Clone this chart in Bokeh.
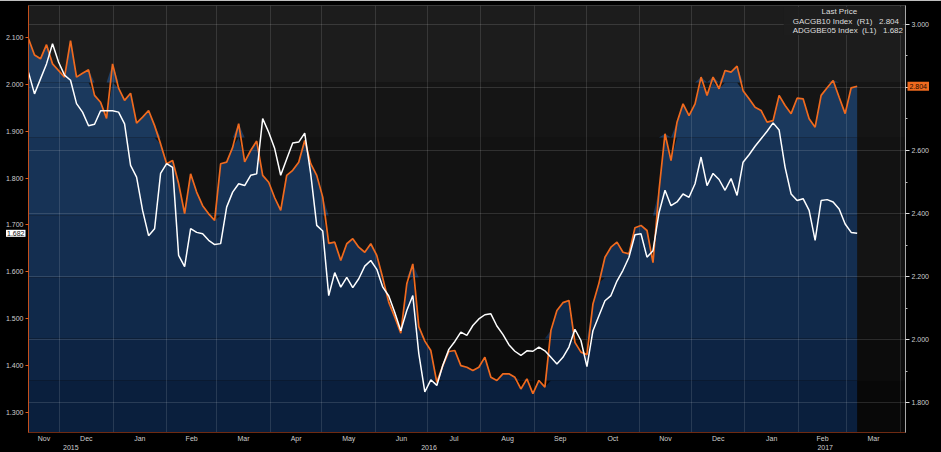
import numpy as np
import pandas as pd
from bokeh.plotting import figure
from bokeh.models import (Range1d, LinearAxis, DatetimeAxis, FixedTicker, MonthsTicker,
                          DatetimeTickFormatter, NumeralTickFormatter, Label, Legend, LegendItem)
from bokeh.embed import file_html
from bokeh.resources import INLINE

# ---------------- data ----------------
START = "2015-11-13"
END_DATA = "2017-03-07"
X_END = "2017-04-04"

# GACGB10 Index (R1) – right axis
gacgb10 = [
    2.955, 2.903, 2.891, 2.936, 2.875, 2.854, 2.833, 2.949, 2.833, 2.845,
    2.856, 2.775, 2.753, 2.702, 2.875, 2.798, 2.759, 2.782, 2.687, 2.706,
    2.727, 2.679, 2.621, 2.558, 2.568, 2.495, 2.400, 2.526, 2.468, 2.425,
    2.399, 2.378, 2.558, 2.563, 2.610, 2.685, 2.564, 2.600, 2.630, 2.521,
    2.499, 2.450, 2.410, 2.521, 2.537, 2.563, 2.632, 2.558, 2.521, 2.452,
    2.305, 2.309, 2.251, 2.304, 2.320, 2.293, 2.277, 2.304, 2.267, 2.195,
    2.118, 2.071, 2.020, 2.177, 2.240, 2.041, 1.995, 1.965, 1.864, 1.917,
    1.962, 1.965, 1.917, 1.912, 1.902, 1.912, 1.944, 1.880, 1.870, 1.891,
    1.891, 1.880, 1.843, 1.875, 1.828, 1.870, 1.849, 2.029, 2.092, 2.117,
    2.124, 1.991, 1.960, 1.952, 2.113, 2.179, 2.261, 2.293, 2.309, 2.277,
    2.272, 2.355, 2.362, 2.346, 2.244, 2.473, 2.653, 2.568, 2.690, 2.748,
    2.711, 2.748, 2.833, 2.775, 2.833, 2.796, 2.854, 2.849, 2.868, 2.790,
    2.764, 2.737, 2.727, 2.690, 2.695, 2.775, 2.743, 2.717, 2.766, 2.764,
    2.701, 2.674, 2.775, 2.799, 2.822, 2.769, 2.717, 2.799, 2.804,
]

# ADGGBE05 Index (L1) – left axis
adggbe05 = [
    2.026, 1.980, 2.012, 2.044, 2.087, 2.048, 2.020, 2.009, 1.959, 1.941,
    1.912, 1.915, 1.944, 1.944, 1.944, 1.941, 1.916, 1.827, 1.802, 1.731,
    1.677, 1.692, 1.810, 1.831, 1.823, 1.635, 1.611, 1.692, 1.684, 1.681,
    1.667, 1.658, 1.660, 1.738, 1.770, 1.788, 1.784, 1.806, 1.809, 1.927,
    1.898, 1.863, 1.806, 1.841, 1.875, 1.877, 1.896, 1.809, 1.699, 1.687,
    1.549, 1.598, 1.567, 1.588, 1.566, 1.585, 1.612, 1.624, 1.605, 1.567,
    1.548, 1.513, 1.474, 1.517, 1.549, 1.425, 1.343, 1.369, 1.357, 1.400,
    1.434, 1.451, 1.471, 1.464, 1.485, 1.499, 1.508, 1.510, 1.484, 1.466,
    1.444, 1.430, 1.421, 1.431, 1.430, 1.439, 1.431, 1.417, 1.403, 1.417,
    1.439, 1.477, 1.453, 1.397, 1.474, 1.506, 1.538, 1.549, 1.580, 1.603,
    1.631, 1.679, 1.681, 1.631, 1.645, 1.726, 1.774, 1.741, 1.749, 1.766,
    1.759, 1.788, 1.845, 1.784, 1.810, 1.797, 1.774, 1.799, 1.763, 1.834,
    1.850, 1.868, 1.884, 1.900, 1.918, 1.903, 1.823, 1.766, 1.752, 1.756,
    1.731, 1.667, 1.752, 1.754, 1.749, 1.734, 1.702, 1.684, 1.682,
]

left_ticks = [1.3, 1.4, 1.5, 1.6, 1.7, 1.8, 1.9, 2.0, 2.1]
right_major = [1.8, 2.0, 2.2, 2.4, 2.6, 2.8, 3.0]
right_minor = [1.9, 2.1, 2.3, 2.5, 2.7, 2.9]
last_orange = 2.804
last_white = 1.682
orange_name = "GACGB10 Index"
white_name = "ADGGBE05 Index"

n = min(len(gacgb10), len(adggbe05))
dates = pd.date_range(START, END_DATA, periods=n)
orange = np.array(gacgb10[:n])
white = np.array(adggbe05[:n])

# ---------------- style ----------------
ORANGE = "#f06a1e"
FONT = "Liberation Sans"
TICK_COLOR = "#cfcfcf"
SHIFT = 50            # hidden extra border on the left, shifted out of view

def ms(ts):
    return float(pd.Timestamp(ts).value) / 1e6

x0, x1 = ms(START), ms(X_END)

R_LO, R_HI = 1.7048, 3.0603
L_LO, L_HI = 1.2564, 2.1688

p = figure(width=941 + SHIFT, height=452, x_axis_type="datetime",
           x_range=Range1d(x0, x1), y_range=Range1d(R_LO, R_HI),
           y_axis_location="right", output_backend="svg", toolbar_location=None,
           min_border_left=28 + SHIFT, min_border_right=36, min_border_top=5,
           min_border_bottom=20,
           background_fill_color="#111111", border_fill_color="#000000",
           outline_line_color=None)
p.styles = {"position": "relative", "left": f"-{SHIFT}px"}
p.extra_y_ranges = {"L": Range1d(L_LO, L_HI)}

# background bands and blue area under the orange series (approximate gradient)
band_edges = [R_HI, 2.816, 2.641, 2.394, 2.197, 2.003, 1.870, R_LO]
bg_colors = ["#1c1c1c", "#151515", "#121212", "#141414", "#0f0f0f", "#0c0c0c", "#080808"]
blue_colors = ["#1f3e63", "#1b395d", "#173356", "#142e50", "#10294a", "#0d2444", "#0a1f3d"]

p.hstrip(y0=band_edges[1:], y1=band_edges[:-1], fill_color=bg_colors,
         line_width=0, line_alpha=0, level="image")
for i in range(len(blue_colors)):
    hi, lo = band_edges[i], band_edges[i + 1]
    top = np.clip(orange, lo, hi)
    p.varea(x=dates, y1=np.full(n, lo), y2=top, fill_color=blue_colors[i], level="image")

# grid
p.ygrid.grid_line_color = "#ffffff"
p.ygrid.grid_line_alpha = 0.13
p.xgrid.ticker = MonthsTicker(months=list(range(12)))
p.xgrid.grid_line_color = "#ffffff"
p.xgrid.grid_line_alpha = 0.12

# series lines
p.line(dates, orange, line_color=ORANGE, line_width=1.7)
p.line(dates, white, line_color="#ffffff", line_width=1.5, y_range_name="L")

# right axis (R1)
ry = p.yaxis[0]
ry.ticker = FixedTicker(ticks=right_major, minor_ticks=right_minor)
ry.formatter = NumeralTickFormatter(format="0.000")
ry.major_label_overrides = {2.8: ""}
ry.axis_line_color = "#a8a8a8"
ry.major_tick_line_color = "#e0e0e0"
ry.minor_tick_line_color = "#bbbbbb"
ry.major_tick_out = 4
ry.major_tick_in = 0
ry.minor_tick_out = 2
ry.minor_tick_in = 0
ry.major_label_standoff = 2
ry.major_label_text_font = FONT
ry.major_label_text_font_size = "7px"
ry.major_label_text_color = TICK_COLOR

# left axis (L1)
ly = LinearAxis(y_range_name="L", ticker=FixedTicker(ticks=left_ticks),
                formatter=NumeralTickFormatter(format="0.000"))
ly.axis_line_color = "#c4501c"
ly.major_tick_line_color = "#e0601e"
ly.major_tick_out = 3
ly.major_tick_in = 0
ly.minor_tick_line_color = None
ly.major_label_standoff = 2
ly.major_label_text_font = FONT
ly.major_label_text_font_size = "7px"
ly.major_label_text_color = TICK_COLOR
p.add_layout(ly, "left")

# bottom axes: month labels centred in month spans, year labels centred in year spans
month_starts = pd.date_range("2015-11-01", "2017-03-01", freq="MS")
mid_ticks = []
for m in month_starts:
    a = max(ms(m), x0)
    b = min(ms(m + pd.offsets.MonthBegin(1)), x1)
    mid_ticks.append((a + b) / 2)
year_ticks = []
for ya, yb in [(START, "2016-01-01"), ("2016-01-01", "2017-01-01"), ("2017-01-01", X_END)]:
    year_ticks.append((max(ms(ya), x0) + min(ms(yb), x1)) / 2)

fmt_b = dict(microseconds="%b", milliseconds="%b", seconds="%b", minsec="%b", minutes="%b",
             hourmin="%b", hours="%b", days="%b", months="%b", years="%b")
fmt_y = {k: "%Y" for k in fmt_b}

bx = p.xaxis[0]
bx.ticker = FixedTicker(ticks=mid_ticks)
bx.formatter = DatetimeTickFormatter(**fmt_b)
bx.axis_line_color = "#6e2a12"
bx.major_tick_line_color = None
bx.minor_tick_line_color = None
bx.major_tick_out = 0
bx.major_tick_in = 0
bx.minor_tick_out = 0
bx.minor_tick_in = 0
bx.major_label_standoff = 2
bx.major_label_text_font = FONT
bx.major_label_text_font_size = "7px"
bx.major_label_text_color = TICK_COLOR

yx = DatetimeAxis(ticker=FixedTicker(ticks=year_ticks), formatter=DatetimeTickFormatter(**fmt_y))
yx.axis_line_color = None
yx.major_tick_line_color = None
yx.minor_tick_line_color = None
yx.major_tick_out = 0
yx.major_tick_in = 0
yx.minor_tick_out = 0
yx.minor_tick_in = 0
yx.major_label_standoff = 0
yx.major_label_text_font = FONT
yx.major_label_text_font_size = "7px"
yx.major_label_text_color = TICK_COLOR
p.add_layout(yx, "below")

# last-value tags on the axes (kept in the wide hidden left border so they are not clipped)
p.add_layout(Label(x=907 + SHIFT, x_units="canvas", y=last_orange, text=f"{last_orange:.3f}",
                   text_align="left", text_baseline="middle", text_font=FONT,
                   text_font_size="7px", text_color="#1a0a00",
                   background_fill_color=ORANGE, padding=2), "left")
p.add_layout(Label(x=25 + SHIFT, x_units="canvas", y=last_white, y_range_name="L",
                   text=f"{last_white:.3f}",
                   text_align="right", text_baseline="middle", text_font=FONT,
                   text_font_size="7px", text_color="#111111",
                   background_fill_color="#ffffff", padding=1), "left")

# legend
r_o = p.scatter(x=[], y=[], marker="square", size=6, color=ORANGE)
r_w = p.scatter(x=[], y=[], marker="square", size=6, color="#ffffff")
sp = "\u00a0"
legend = Legend(items=[
    LegendItem(label=f"{orange_name}{sp*2}(R1){sp*3}{last_orange:.3f}", renderers=[r_o]),
    LegendItem(label=f"{white_name}{sp*2}(L1){sp*3}{last_white:.3f}", renderers=[r_w]),
], title=sp * 17 + "Last Price", location="top_right")
legend.background_fill_color = "#1e1e1e"
legend.background_fill_alpha = 0.9
legend.border_line_color = None
legend.label_text_color = "#dddddd"
legend.label_text_font = FONT
legend.label_text_font_size = "8px"
legend.label_height = 8
legend.glyph_height = 6
legend.glyph_width = 6
legend.label_standoff = 3
legend.spacing = 0
legend.padding = 3
legend.margin = 2
legend.title_text_color = "#dddddd"
legend.title_text_font = FONT
legend.title_text_font_size = "8px"
legend.title_text_font_style = "normal"
legend.title_standoff = 1
p.add_layout(legend)

open("out.html", "w").write(file_html(p, INLINE))
